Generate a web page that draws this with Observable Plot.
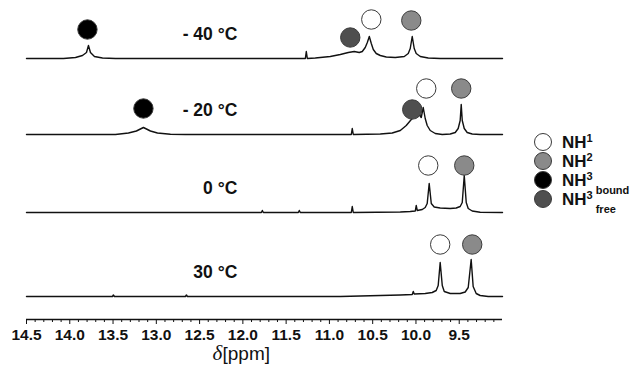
<!DOCTYPE html>
<html><head><meta charset="utf-8">
<script src="https://cdn.jsdelivr.net/npm/d3@7"></script>
<script src="https://cdn.jsdelivr.net/npm/@observablehq/plot@0.6"></script>
<style>
body{margin:0;background:#fff;}
#wrap{position:relative;width:642px;height:373px;font-family:"Liberation Sans",Arial,Helvetica,sans-serif;}
#wrap svg.overlay{position:absolute;left:0;top:0;pointer-events:none;}
</style></head><body><div id="wrap"></div>
<script>
// ---- data ----
const tempLabels = ["- 40 °C", "- 20 °C", "0 °C", "30 °C"];
// vertical stacking offset of each spectrum (intensity units)
const baselineOffsets = [261, 185, 107, 23];

// spectra: [ppm, intensity above own baseline]
const spectrumM40 = [[14.500,0],[14.073,0],[13.934,1],[13.853,3],[13.807,6],[13.784,13],[13.761,6],[13.715,2],[13.622,0.5],[13.472,0],[11.278,0],[11.267,7],[11.255,0],[11.163,0.5],[10.990,2],[10.874,4],[10.782,6],[10.713,7],[10.655,6],[10.620,7],[10.586,11],[10.562,16],[10.539,22],[10.516,15],[10.493,9],[10.459,5],[10.412,3],[10.343,1.5],[10.239,1],[10.135,2],[10.089,5],[10.066,10],[10.043,22],[10.020,10],[9.997,5],[9.950,2],[9.858,0.5],[9.720,0],[9.000,0]];
const spectrumM20 = [[14.500,0],[13.472,0],[13.322,1.5],[13.230,3.5],[13.184,5.5],[13.149,7],[13.114,5.5],[13.068,3.5],[12.987,1.5],[12.837,0.3],[12.664,0],[10.747,0],[10.736,6],[10.724,0],[10.412,0.5],[10.274,1.5],[10.181,4],[10.112,9],[10.054,15],[10.008,21],[9.985,24],[9.962,20],[9.939,17],[9.916,27],[9.893,16],[9.870,9],[9.835,4],[9.777,1],[9.696,0],[9.604,0.5],[9.546,2],[9.512,6],[9.489,14],[9.477,30],[9.465,14],[9.442,6],[9.408,2],[9.350,0.5],[9.258,0],[9.000,0]];
const spectrum0 = [[14.500,0],[11.786,0],[11.775,2],[11.763,0],[11.359,0],[11.348,2],[11.336,0],[10.747,0],[10.736,6],[10.724,0],[10.181,0.5],[10.066,1],[10.008,1.5],[9.997,7],[9.985,2],[9.927,3],[9.893,5],[9.870,9],[9.847,29],[9.823,9],[9.789,5.5],[9.720,4.5],[9.604,4],[9.535,4.5],[9.489,6],[9.465,10],[9.442,37],[9.419,10],[9.396,4],[9.350,1.5],[9.258,0.3],[9.000,0]];
const spectrum30 = [[14.500,0],[13.507,0],[13.496,1.5],[13.484,0],[12.664,0],[12.652,1.5],[12.641,0],[10.874,0],[10.528,0.7],[10.181,1.5],[10.043,2],[10.031,5],[10.020,2.5],[9.893,3],[9.812,4],[9.766,6],[9.743,11],[9.720,34],[9.696,11],[9.673,5],[9.604,3],[9.489,3],[9.431,4.5],[9.396,9],[9.362,37],[9.339,10],[9.304,3],[9.258,1],[9.165,0],[9.000,0]];

// peak assignment markers
const markerTrace   = [0,0,0,0, 1,1,1,1, 2,2, 3,3];
const markerSpecies = ["bound","free","NH1","NH2", "bound","free","NH1","NH2", "NH1","NH2", "NH1","NH2"];
const markerPpm     = [13.796,10.759,10.516,10.054, 13.149,10.043,9.881,9.477, 9.858,9.442, 9.720,9.350];
const markerLevel   = [29,21,39,38, 26,25,46,46, 47,47, 52,52];

const majorTicks = [14.5,14.0,13.5,13.0,12.5,12.0,11.5,11.0,10.5,10.0,9.5];
const minorTicks = [14.4,14.3,14.2,14.1,13.9,13.8,13.7,13.6,13.4,13.3,13.2,13.1,12.9,12.8,12.7,12.6,12.4,12.3,12.2,12.1,11.9,11.8,11.7,11.6,11.4,11.3,11.2,11.1,10.9,10.8,10.7,10.6,10.4,10.3,10.2,10.1,9.9,9.8,9.7,9.6,9.4,9.3,9.2,9.1];

const legendSpecies = ["NH1","NH2","bound","free"];
const legendMain = ["NH","NH","NH","NH"];
const legendSup  = ["1","2","3","3"];
const legendSub  = ["","","bound","free"];
const speciesColor = {NH1:"#ffffff", NH2:"#8a8a8a", bound:"#000000", free:"#4f4f4f"};

// ---- build tables ----
const spectra = [spectrumM40, spectrumM20, spectrum0, spectrum30];
const rows = spectra.flatMap((s, i) => s.map(([ppm, v]) => ({trace: i, ppm, y: baselineOffsets[i] + v})));
const markers = markerPpm.map((p, k) => ({ppm: p, y: baselineOffsets[markerTrace[k]] + markerLevel[k], species: markerSpecies[k]}));
const labels = tempLabels.map((t, i) => ({text: t, y: baselineOffsets[i] + 24}));

const FONT = '"Liberation Sans", Arial, Helvetica, sans-serif';
const plot = Plot.plot({
  width: 642, height: 373,
  marginLeft: 26, marginRight: 140, marginTop: 0, marginBottom: 54,
  style: {fontFamily: FONT, background: "#fff", color: "#111", overflow: "visible"},
  x: {domain: [14.5, 9.0], label: null},
  y: {domain: [0, 319], axis: null},
  marks: [
    Plot.ruleY([0], {stroke: "#111", strokeWidth: 1.3}),
    Plot.axisX({ticks: minorTicks, tickSize: 3, tickFormat: () => "", stroke: "#111", label: null}),
    Plot.axisX({ticks: majorTicks, tickSize: 5, tickPadding: 4, tickFormat: d => d.toFixed(1), fontSize: 15.5, fontWeight: "bold", stroke: "#111", fill: "#111", label: null}),
    Plot.line(rows, {x: "ppm", y: "y", z: "trace", stroke: "#111", strokeWidth: 1.4}),
    Plot.dot(markers, {x: "ppm", y: "y", r: 9.7, fill: d => speciesColor[d.species], stroke: "#3a3a3a", strokeWidth: 1}),
    Plot.text(labels, {x: () => 12.064, y: "y", text: "text", textAnchor: "end", fontSize: 17.5, fontWeight: "bold", fill: "#111"}),
    Plot.text(["δ"], {frameAnchor: "bottom-left", dx: 186, dy: 40, fontFamily: '"Liberation Serif", "DejaVu Serif", serif', fontStyle: "italic", fontSize: 21, fill: "#111"}),
    Plot.text(["[ppm]"], {frameAnchor: "bottom-left", dx: 196, dy: 40, textAnchor: "start", fontSize: 19, fill: "#111"})
  ]
});
const wrap = document.getElementById("wrap");
wrap.appendChild(plot);

// legend overlay
const svg = d3.select(wrap).append("svg").attr("class", "overlay").attr("width", 642).attr("height", 373);
const legendX = 543, legendTop = 142, legendStep = 19;
legendSpecies.forEach((sp, i) => {
  const cy = legendTop + i * legendStep;
  svg.append("circle").attr("cx", legendX).attr("cy", cy).attr("r", 8.5)
    .attr("fill", speciesColor[sp]).attr("stroke", "#3a3a3a").attr("stroke-width", 1);
  const t = svg.append("text").attr("x", legendX + 19).attr("y", cy + 6)
    .attr("font-family", FONT).attr("font-weight", "bold").attr("font-size", 17).attr("fill", "#111");
  t.append("tspan").text(legendMain[i]);
  t.append("tspan").attr("font-size", 11).attr("dy", -6).text(legendSup[i]);
  if (legendSub[i]) t.append("tspan").attr("font-size", 11).attr("dx", 3).attr("dy", 14).text(legendSub[i]);
});
</script></body></html>
